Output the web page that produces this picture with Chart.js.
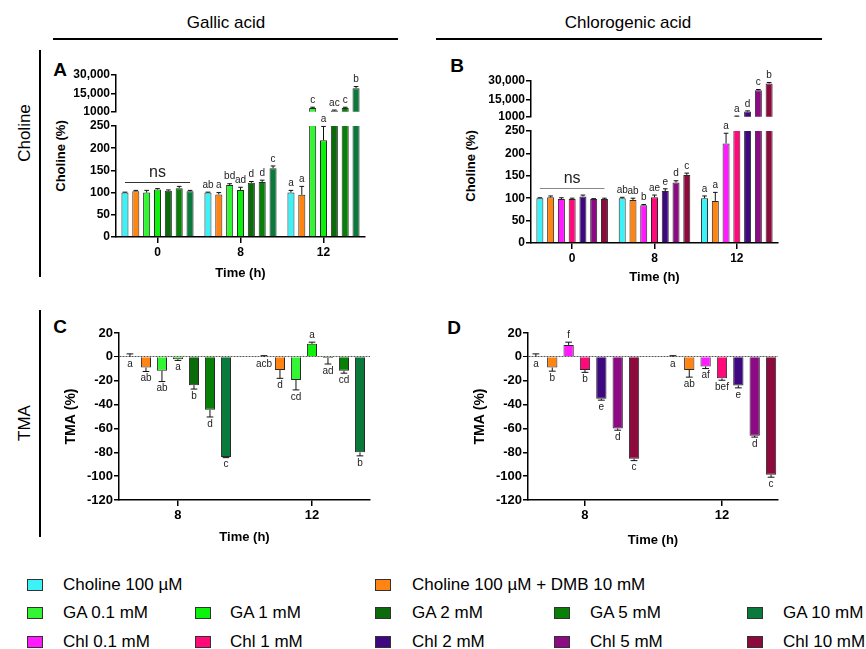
<!DOCTYPE html>
<html>
<head>
<meta charset="utf-8">
<script src="https://cdn.jsdelivr.net/npm/chart.js@4.4.0/dist/chart.umd.min.js"></script>
<style>
  html, body { margin: 0; padding: 0; background: #fff; }
  body { position: relative; width: 866px; height: 649px; overflow: hidden; font-family: 'Liberation Sans', Arial, sans-serif; color: #000; }
  canvas { position: absolute; }
  .t { position: absolute; white-space: nowrap; transform: translate(-50%, -50%); }
  .rot { transform: translate(-50%, -50%) rotate(-90deg); }
  .hline { position: absolute; height: 2px; background: #000; }
  .vline { position: absolute; width: 2px; background: #000; }
  .sw { position: absolute; width: 14px; height: 10px; border: 1px solid #333; }
  .lt { position: absolute; font-size: 17px; white-space: nowrap; transform: translateY(-50%); }
</style>
</head>
<body>

<div class="t" style="left:226px;top:23px;font-size:17px">Gallic acid</div>
<div class="t" style="left:628px;top:23px;font-size:17px">Chlorogenic acid</div>
<div class="hline" style="left:53px;top:38px;width:345px"></div>
<div class="hline" style="left:436px;top:38px;width:386px"></div>

<div class="vline" style="left:39px;top:50px;height:227px"></div>
<div class="vline" style="left:39px;top:310px;height:227px"></div>
<div class="t rot" style="left:25px;top:133px;font-size:17px">Choline</div>
<div class="t rot" style="left:25px;top:423px;font-size:17px">TMA</div>

<div class="t" style="left:60px;top:70px;font-size:19px;font-weight:bold">A</div>
<div class="t" style="left:457px;top:66px;font-size:19px;font-weight:bold">B</div>
<div class="t" style="left:60px;top:327px;font-size:19px;font-weight:bold">C</div>
<div class="t" style="left:454px;top:328px;font-size:19px;font-weight:bold">D</div>

<div class="t rot" style="left:60px;top:156px;font-size:13px;font-weight:bold">Choline (%)</div>
<div class="t rot" style="left:470px;top:166px;font-size:13px;font-weight:bold">Choline (%)</div>

<canvas id="aTop" width="313" height="61" style="left:56px;top:59px"></canvas>
<canvas id="aBot" width="313" height="175" style="left:56px;top:110px"></canvas>
<canvas id="bTop" width="311" height="60" style="left:471px;top:65px"></canvas>
<canvas id="bBot" width="311" height="174" style="left:471px;top:115px"></canvas>
<canvas id="cTma" width="315" height="232" style="left:59px;top:317px"></canvas>
<canvas id="dTma" width="314" height="235" style="left:468px;top:317px"></canvas>

<div id="legend"></div>

<script>
// ---- data ----
const timesAB = ['0', '8', '12'];
const timesCD = ['8', '12'];
const topTicks = [1000, 15000, 30000];
const topTickLabels = ['1000', '15,000', '30,000'];

const namesGA = ['Choline 100 µM', 'Choline 100 µM + DMB 10 mM', 'GA 0.1 mM', 'GA 1 mM', 'GA 2 mM', 'GA 5 mM', 'GA 10 mM'];
const namesChl = ['Choline 100 µM', 'Choline 100 µM + DMB 10 mM', 'Chl 0.1 mM', 'Chl 1 mM', 'Chl 2 mM', 'Chl 5 mM', 'Chl 10 mM'];
const colorsGA = ['#3CF2F7', '#FF8412', '#33F533', '#0DF20D', '#0B6B0B', '#088008', '#0A7A3C'];
const colorsChl = ['#3CF2F7', '#FF8412', '#FF1AFF', '#FF0A78', '#3E0880', '#8C0A84', '#8C0A3C'];

// A: choline (%), gallic acid; one row per series, columns 0 / 8 / 12 h
const cholineGA = [[100, 100, 100], [103, 96, 95], [100, 117, 3900], [107, 106, 218], [104, 122, 2000], [110, 124, 3900], [103, 155, 19600]];
const cholineGAErr = [[1, 1, 5], [2, 4, 19], [5, 3, 700], [2, 6, 31], [2, 3, 400], [4, 4, 700], [2, 5, 1300]];
const cholineGALetters = [['', 'ab', 'a'], ['', 'a', 'a'], ['', 'bd', 'c'], ['', 'ad', 'a'], ['', 'd', 'ac'], ['', 'd', 'c'], ['', 'c', 'b']];

// B: choline (%), chlorogenic acid
const cholineChl = [[100, 100, 100], [102, 96, 94], [98, 84, 222], [98, 102, 1300], [104, 116, 5300], [98, 135, 22500], [98, 152, 28000]];
const cholineChlErr = [[1, 2, 5], [3, 4, 19], [3, 2, 23], [2, 5, 300], [3, 5, 500], [1, 4, 600], [2, 4, 800]];
const cholineChlLetters = [['', 'ab', 'a'], ['', 'ab', 'a'], ['', 'b', 'a'], ['', 'ae', 'a'], ['', 'e', 'd'], ['', 'd', 'c'], ['', 'c', 'b']];

// C: TMA (%), gallic acid; columns 8 / 12 h
const tmaGA = [[0, 0], [-9, -11], [-11.7, -19.3], [-2, 10.9], [-23.7, -1], [-44.4, -11.7], [-84, -80]];
const tmaGAErr = [[2.5, 1], [3.3, 7], [9, 8.4], [1, 1.4], [3.3, 5], [6, 2], [0.5, 3]];
const tmaGALetters = [['a', 'acb'], ['ab', 'd'], ['ab', 'cd'], ['a', 'a'], ['b', 'ad'], ['d', 'cd'], ['c', 'b']];

// D: TMA (%), chlorogenic acid
const tmaChl = [[0, 0], [-9, -11], [10, -8], [-11, -18], [-35.2, -24], [-60, -66.2], [-85.5, -98.9]];
const tmaChlErr = [[2.5, 1], [3, 6], [2.3, 1.8], [2, 1.6], [1.1, 2], [1.5, 1.1], [1.5, 2]];
const tmaChlLetters = [['a', 'a'], ['b', 'ab'], ['f', 'af'], ['b', 'bef'], ['e', 'e'], ['d', 'd'], ['c', 'c']];

const FONT = "'Liberation Sans', Arial, sans-serif";
Chart.defaults.font.family = FONT;
Chart.defaults.color = '#000';

// error bars, significance letters and the "ns" bracket
const marks = {
  id: 'marks',
  afterDatasetsDraw(chart, args, o) {
    const { ctx, chartArea: a } = chart;
    const y = chart.scales.y;
    ctx.save();
    o.vals.forEach((row, i) => {
      const bars = chart.getDatasetMeta(i).data;
      row.forEach((v, j) => {
        if (v < y.min || v > y.max) return;
        const e = o.errs[i][j];
        const up = v >= 0;
        const x = bars[j].x, w = bars[j].width;
        const y0 = y.getPixelForValue(v);
        const y1 = y.getPixelForValue(up ? v + e : v - e);
        ctx.save();
        ctx.beginPath();
        ctx.rect(a.left, a.top - 1, a.width, a.height + 2);
        ctx.clip();
        ctx.strokeStyle = '#111';
        ctx.lineWidth = 1;
        ctx.beginPath();
        ctx.moveTo(x, y0);
        ctx.lineTo(x, y1);
        ctx.moveTo(x - w * 0.33, y1);
        ctx.lineTo(x + w * 0.33, y1);
        ctx.stroke();
        ctx.restore();

        const t = o.letters[i][j];
        if (!t) return;
        ctx.font = '10px ' + FONT;
        ctx.fillStyle = '#222';
        ctx.textAlign = 'center';
        if (v > 0.5) {
          ctx.textBaseline = 'bottom';
          ctx.fillText(t, x, y1 - 2);
        } else {
          ctx.textBaseline = 'top';
          ctx.fillText(t, x, (v < 0 ? y1 : y.getPixelForValue(0)) + 2);
        }
      });
    });
    if (o.ns) {
      const b0 = chart.getDatasetMeta(0).data[0];
      const b1 = chart.getDatasetMeta(o.vals.length - 1).data[0];
      const py = Math.round(y.getPixelForValue(o.ns.at)) + 0.5;
      ctx.strokeStyle = o.ns.color;
      ctx.lineWidth = 1;
      ctx.beginPath();
      ctx.moveTo(b0.x, py);
      ctx.lineTo(b1.x, py);
      ctx.stroke();
      ctx.font = '16px ' + FONT;
      ctx.fillStyle = '#222';
      ctx.textAlign = 'center';
      ctx.textBaseline = 'bottom';
      ctx.fillText('ns', (b0.x + b1.x) / 2, py - 2);
    }
    ctx.restore();
  }
};

function axisY(opts) {
  return Object.assign({
    grid: { drawOnChartArea: false, color: '#000', lineWidth: 1.5, tickLength: 5 },
    border: { color: '#000', width: 1.5 },
    ticks: { font: { size: 12, weight: 'bold' }, color: '#000', padding: 1 },
    afterFit: s => { s.width = 60; }
  }, opts);
}

function timeTitle(size) {
  return { display: true, text: 'Time (h)', font: { size: size, weight: 'bold' }, color: '#000', padding: { top: 4, bottom: 4 } };
}

// choline panels (broken y axis drawn as two stacked charts)
function cholineChart(id, part, vals, errs, letters, names, colors, xH, ns) {
  const top = part === 'top';
  const y = top
    ? axisY({ min: 1000, max: 30000,
        afterBuildTicks: s => { s.ticks = topTicks.map(v => ({ value: v })); },
        ticks: { font: { size: 12, weight: 'bold' }, color: '#000', padding: 1,
          callback: v => topTickLabels[topTicks.indexOf(v)] } })
    : axisY({ min: 0, max: 250,
        ticks: { stepSize: 50, font: { size: 12, weight: 'bold' }, color: '#000', padding: 1 } });
  return new Chart(document.getElementById(id), {
    type: 'bar',
    data: {
      labels: timesAB,
      datasets: vals.map((d, i) => ({
        label: names[i], data: d, backgroundColor: colors[i],
        borderColor: '#2a2a2a', borderWidth: 1
      }))
    },
    options: {
      responsive: false,
      animation: false,
      layout: { padding: { top: 16, bottom: top ? 8 : 0, left: 0, right: 4 } },
      datasets: { bar: { categoryPercentage: 0.915, barPercentage: 0.65 } },
      plugins: {
        legend: { display: false },
        tooltip: { enabled: false },
        marks: { vals: vals, errs: errs, letters: letters, ns: top ? null : ns }
      },
      scales: {
        x: {
          display: !top,
          offset: true,
          grid: { offset: false, drawOnChartArea: false, color: '#000', lineWidth: 1.5, tickLength: 6 },
          border: { color: '#000', width: 1.5 },
          ticks: { font: { size: 12, weight: 'bold' }, color: '#000', padding: 2 },
          title: timeTitle(13),
          afterFit: s => { s.height = xH; }
        },
        y: y
      }
    },
    plugins: [marks]
  });
}

// TMA panels: linear x so the 8 h / 12 h groups sit like the original
function tmaChart(id, vals, errs, letters, names, colors, xMin, xMax, xH) {
  return new Chart(document.getElementById(id), {
    type: 'bar',
    data: {
      datasets: vals.map((d, i) => ({
        label: names[i], data: d.map((v, j) => ({ x: j, y: v })), backgroundColor: colors[i],
        borderColor: '#2a2a2a', borderWidth: 1
      }))
    },
    options: {
      responsive: false,
      animation: false,
      layout: { padding: { top: 16, bottom: 0, left: 0, right: 4 } },
      datasets: { bar: { categoryPercentage: 0.836, barPercentage: 0.63 } },
      plugins: {
        legend: { display: false },
        tooltip: { enabled: false },
        marks: { vals: vals, errs: errs, letters: letters }
      },
      scales: {
        x: {
          type: 'linear',
          min: xMin, max: xMax,
          offset: false,
          afterBuildTicks: s => { s.ticks = timesCD.map((t, j) => ({ value: j })); },
          grid: { offset: false, drawOnChartArea: false, color: '#000', lineWidth: 1.5, tickLength: 6 },
          border: { color: '#000', width: 1.5 },
          ticks: { font: { size: 13, weight: 'bold' }, color: '#000', padding: 2, callback: v => timesCD[v] },
          title: timeTitle(13),
          afterFit: s => { s.height = xH; }
        },
        y: axisY({
          min: -120, max: 20,
          grid: {
            drawOnChartArea: true,
            color: c => c.tick && c.tick.value === 0 ? '#555' : 'rgba(0,0,0,0)',
            tickColor: '#000', lineWidth: c => c.tick && c.tick.value === 0 ? 1 : 1.5, tickLength: 5
          },
          border: { color: '#000', width: 1.5, dash: [2, 1] },
          ticks: { stepSize: 20, font: { size: 13, weight: 'bold' }, color: '#000', padding: 1 },
          title: { display: true, text: 'TMA (%)', font: { size: 14, weight: 'bold' }, color: '#000', padding: { top: 4, bottom: 4 } }
        })
      }
    },
    plugins: [marks]
  });
}

cholineChart('aTop', 'top', cholineGA, cholineGAErr, cholineGALetters, namesGA, colorsGA, 0, null);
cholineChart('aBot', 'bottom', cholineGA, cholineGAErr, cholineGALetters, namesGA, colorsGA, 48, { at: 125, color: '#333' });
cholineChart('bTop', 'top', cholineChl, cholineChlErr, cholineChlLetters, namesChl, colorsChl, 0, null);
cholineChart('bBot', 'bottom', cholineChl, cholineChlErr, cholineChlLetters, namesChl, colorsChl, 46, { at: 122, color: '#888' });
tmaChart('cTma', tmaGA, tmaGAErr, tmaGALetters, namesGA, colorsGA, -0.44, 1.433, 49);
tmaChart('dTma', tmaChl, tmaChlErr, tmaChlLetters, namesChl, colorsChl, -0.416, 1.409, 52);

// legend (HTML)
const legendRows = [585, 613, 642];
const legendSwatchX = [27, 195, 375, 554, 747];
const legendTextX = [63, 230, 412, 590, 783];
const legendItems = [
  [namesGA[0], colorsGA[0], 0, 0], [namesGA[1], colorsGA[1], 0, 2],
  [namesGA[2], colorsGA[2], 1, 0], [namesGA[3], colorsGA[3], 1, 1], [namesGA[4], colorsGA[4], 1, 2],
  [namesGA[5], colorsGA[5], 1, 3], [namesGA[6], colorsGA[6], 1, 4],
  [namesChl[2], colorsChl[2], 2, 0], [namesChl[3], colorsChl[3], 2, 1], [namesChl[4], colorsChl[4], 2, 2],
  [namesChl[5], colorsChl[5], 2, 3], [namesChl[6], colorsChl[6], 2, 4]
];
const lg = document.getElementById('legend');
legendItems.forEach(([name, color, r, c]) => {
  const sw = document.createElement('div');
  sw.className = 'sw';
  sw.style.left = legendSwatchX[c] + 'px';
  sw.style.top = (legendRows[r] - 6) + 'px';
  sw.style.background = color;
  lg.appendChild(sw);
  const tx = document.createElement('div');
  tx.className = 'lt';
  tx.style.left = legendTextX[c] + 'px';
  tx.style.top = legendRows[r] + 'px';
  tx.textContent = name;
  lg.appendChild(tx);
});
</script>
</body>
</html>
